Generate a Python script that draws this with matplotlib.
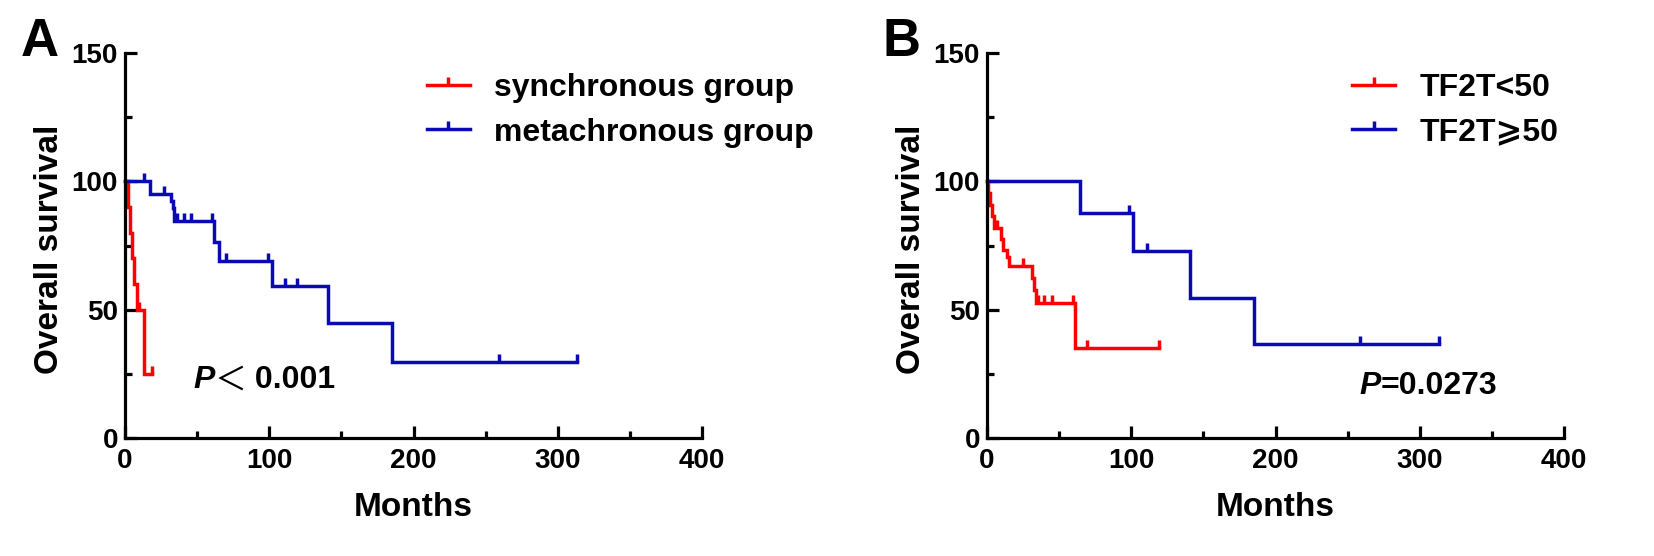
"""
Kaplan-Meier overall survival curves, panels A and B.
"""

import numpy as np
import matplotlib.pyplot as plt
from matplotlib import font_manager
from matplotlib.lines import Line2D

# ---- data (months, survival %) ----
# Panel A
sync_event_t = [2, 3.5, 5, 6.5, 8, 13.5]
sync_event_s = [90, 80, 70, 60, 50, 25]
sync_censor_t = [10, 18.5]
sync_end = 18.5

meta_event_t = [17, 32, 33, 34, 62, 65, 102, 141, 185]
meta_event_s = [95.2, 92.5, 89.5, 84.5, 76.5, 69.0, 59.3, 44.7, 29.8]
meta_censor_t = [13, 27, 36, 41, 46, 60.5, 70, 99, 111, 119, 259, 313]
meta_end = 313

# Panel B
low_event_t = [0.5, 2, 3.7, 5.1, 9.7, 11.3, 13.6, 15.3, 31, 32.8, 33.7, 61]
low_event_s = [95.5, 90.9, 86.4, 81.8, 77.5, 73.2, 70.4, 67.2, 62.5, 57.5, 52.6, 35.1]
low_censor_t = [7, 25.2, 35.6, 39.8, 44.8, 59.4, 69, 119]
low_end = 119

high_event_t = [64.5, 101, 141, 185]
high_event_s = [87.5, 72.9, 54.7, 36.5]
high_censor_t = [98.7, 110.7, 258.6, 313]
high_end = 313

labels_a = ["synchronous group", "metachronous group"]
labels_b = ["TF2T<50", "TF2T\u2a7e50"]

RED = "#FF0000"
BLUE = "#0A0AB4"
LW = 2.5

names = {f.name for f in font_manager.fontManager.ttflist}
MAIN_FONT = "Liberation Sans Narrow" if "Liberation Sans Narrow" in names else "Liberation Sans"
plt.rcParams["font.family"] = [MAIN_FONT, "DejaVu Sans", "Noto Sans CJK SC"]
plt.rcParams["font.weight"] = "bold"

# censor tick: vertical stroke going up from the curve
TICK = [(0, 0), (0, 1)]


def km_curve(ax, event_t, event_s, censor_t, end, color):
    """Draw a step survival curve with censor ticks."""
    t = np.concatenate([[0], event_t, [end]])
    s = np.concatenate([[100], event_s, [event_s[-1]]])
    ax.step(t, s, where="post", color=color, lw=LW, clip_on=False,
            solid_joinstyle="miter")
    levels = np.concatenate([[100], event_s])
    idx = np.searchsorted(event_t, censor_t, side="right")
    ax.plot(censor_t, levels[idx], linestyle="none", marker=TICK,
            markersize=11, markeredgewidth=LW, color=color, clip_on=False)


def style_axes(ax):
    ax.set_xlim(0, 400)
    ax.set_ylim(0, 150)
    ax.spines["top"].set_visible(False)
    ax.spines["right"].set_visible(False)
    for sp in ("left", "bottom"):
        ax.spines[sp].set_linewidth(2.3)
    ax.set_xticks([0, 100, 200, 300, 400])
    ax.set_xticks([50, 150, 250, 350], minor=True)
    ax.set_yticks([0, 50, 100, 150])
    ax.set_yticks([25, 75, 125], minor=True)
    ax.tick_params(which="both", direction="in", width=2.3, labelsize=20)
    ax.tick_params(which="major", length=8.5)
    ax.tick_params(which="minor", length=5)
    ax.tick_params(axis="y", pad=5)
    ax.tick_params(axis="x", pad=7)
    ax.set_xlabel("Months", fontsize=24, fontweight="bold", va="center")
    ax.set_ylabel("Overall survival", fontsize=24, fontweight="bold", va="center")
    ax.xaxis.set_label_coords(0.5, -0.18)
    ax.yaxis.set_label_coords(-0.13, 0.49)


def add_legend(ax, labels, x0):
    handles = [Line2D([], [], color=c, lw=LW, marker=TICK, markersize=11,
                      markeredgewidth=LW) for c in (RED, BLUE)]
    ax.legend(handles, labels, loc="center left", bbox_to_anchor=(x0, 0.851),
              frameon=False, fontsize=23, handlelength=1.35,
              handletextpad=0.75, labelspacing=0.45, borderpad=0,
              borderaxespad=0)


def add_pvalue(ax, x, y, pieces):
    """Write the italic P, then each following piece right after the last one."""
    prev = ax.text(x, y, "P", transform=ax.transAxes, fontsize=23,
                   fontweight="bold", fontstyle="italic", va="center",
                   ha="left", family=["Liberation Sans", "DejaVu Sans"])
    for txt, fam, weight in pieces:
        prev = ax.annotate(txt, xy=(1, 0.5), xycoords=prev, va="center",
                           ha="left", fontsize=23, fontweight=weight,
                           family=fam)


fig = plt.figure(figsize=(16.54, 5.56), dpi=100)
ax_a = fig.add_axes([125 / 1654, 0.2122, 577 / 1654, 0.6925])
ax_b = fig.add_axes([987 / 1654, 0.2122, 577 / 1654, 0.6925])

km_curve(ax_a, sync_event_t, sync_event_s, sync_censor_t, sync_end, RED)
km_curve(ax_a, meta_event_t, meta_event_s, meta_censor_t, meta_end, BLUE)
km_curve(ax_b, low_event_t, low_event_s, low_censor_t, low_end, RED)
km_curve(ax_b, high_event_t, high_event_s, high_censor_t, high_end, BLUE)

for ax in (ax_a, ax_b):
    style_axes(ax)

add_legend(ax_a, labels_a, 0.523)
add_legend(ax_b, labels_b, 0.633)

add_pvalue(ax_a, 0.118, 0.15,
           [("\uff1c", ["Noto Sans CJK SC", "DejaVu Sans"], "normal"),
            (" 0.001", [MAIN_FONT, "DejaVu Sans"], "bold")])
add_pvalue(ax_b, 0.645, 0.135,
           [("=0.0273", [MAIN_FONT, "DejaVu Sans"], "bold")])

fig.text(40 / 1654, 1 - 42 / 556, "A", fontsize=38, fontweight="bold",
         ha="center", va="center")
fig.text(902 / 1654, 1 - 42 / 556, "B", fontsize=38, fontweight="bold",
         ha="center", va="center")

fig.savefig("out.png", dpi=100)
